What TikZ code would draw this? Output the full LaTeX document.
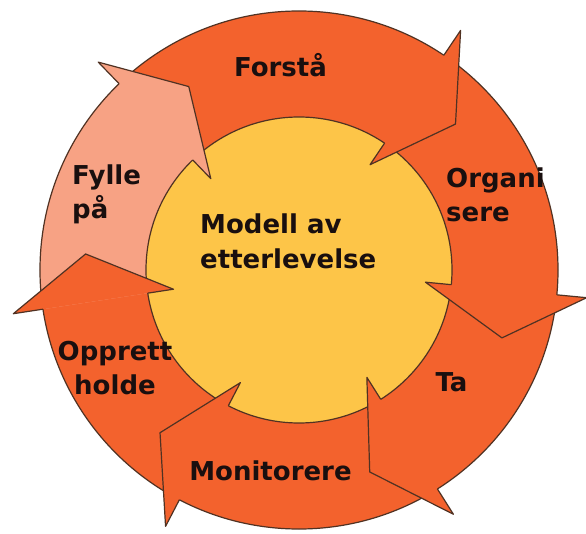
\documentclass[tikz,border=0pt]{standalone}
\usepackage{fontspec}
\setmainfont{DejaVu Sans}
\usetikzlibrary{calc}
\definecolor{ringorange}{RGB}{243,98,45}
\definecolor{ringpink}{RGB}{247,162,132}
\definecolor{coreyellow}{RGB}{253,197,72}
\definecolor{edgebrown}{RGB}{80,50,35}
\definecolor{textdark}{RGB}{25,15,15}

\begin{document}
\begin{tikzpicture}[
        x=1pt, y=1pt,
        outline/.style={draw=edgebrown, line width=1.2pt, line join=round},
        phasetext/.style={font=\bfseries\fontsize{26}{34}\selectfont, text=textdark, inner sep=0pt},
        coretext/.style={font=\bfseries\fontsize{26}{35}\selectfont, text=textdark, inner sep=0pt, align=left}
    ]
        \useasboundingbox (-299,-263) rectangle (287,270);

        % ring and pink part of it
        \fill[ringorange] (0,0) circle (259);
        \fill[ringpink] (132.5:153) -- (132.5:259) arc[start angle=132.5, end angle=188.7, radius=259]
            -- (188.7:153) arc[start angle=188.7, end angle=132.5, radius=153] -- cycle;
        \draw[outline] (0,0) circle (259);
        \filldraw[outline, fill=coreyellow] (0,0) circle (153);

        % arrow heads, barb angle / colour
        \foreach \a/\c in {56/ringorange, -5.5/ringorange, -57.7/ringorange, -117.5/ringorange, -171.3/ringorange, 134/ringpink} {
            \fill[\c] (\a:289) -- ({\a-13}:214) -- (\a:127) -- cycle;
            \draw[outline] (\a:259) -- (\a:289) -- ({\a-13}:214) -- (\a:127) -- (\a:153);
        }

        \node[phasetext, anchor=base] (forsta) at (-18.5,193) {Forstå};
        \node[phasetext, anchor=west, align=left] (fylle) at (-227,76) {Fylle\\på};
        \node[phasetext, anchor=west, align=left] (organisere) at (147,75) {Organi\\sere};
        \node[phasetext, anchor=base] (ta) at (152.5,-121) {Ta};
        \node[phasetext, anchor=base] (monitorere) at (-28.5,-210) {Monitorere};
        \node[phasetext, align=center] (opprett) at (-184,-98) {Opprett\\holde};
        \node[coretext, anchor=west] (modell) at (-99,29) {Modell av\\etterlevelse};
    \end{tikzpicture}
\end{document}
